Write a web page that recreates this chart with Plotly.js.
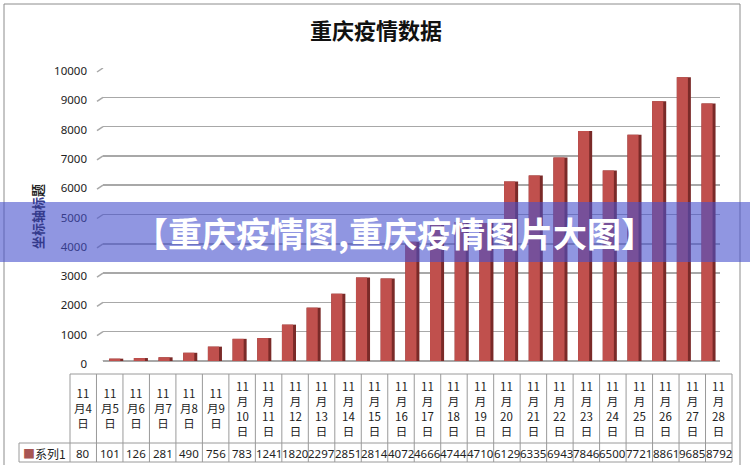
<!DOCTYPE html>
<html><head><meta charset="utf-8">
<script src="https://cdn.plot.ly/plotly-3.0.1.min.js"></script>
<style>html,body{margin:0;padding:0;background:#fff;}#chart{width:750px;height:465px;}</style>
</head><body><div id="chart"></div>
<script>
// ---- data ----
const dates = ['11月4日','11月5日','11月6日','11月7日','11月8日','11月9日','11月10日','11月11日','11月12日','11月13日','11月14日','11月15日','11月16日','11月17日','11月18日','11月19日','11月20日','11月21日','11月22日','11月23日','11月24日','11月25日','11月26日','11月27日','11月28日'];
const cases = [80,101,126,281,490,756,783,1241,1820,2297,2851,2814,4072,4666,4744,4710,6129,6335,6943,7846,6500,7721,8861,9685,8792];
const seriesName = '系列1';
const yTicks = [0,1000,2000,3000,4000,5000,6000,7000,8000,9000,10000];
const yTickText = ['0','1000','2000','3000','4000','5000','6000','7000','8000','9000','10000'];
const chartTitle = '重庆疫情数据';
const yTitle = '坐标轴标题';
const bannerText = '【重庆疫情图,重庆疫情图片大图】';

// ---- geometry helpers (pixel -> paper) ----
const W = 750, H = 465, L = 70, R = 18, T = 68, B = 104;
const PW = W - L - R, PH = H - T - B;
const px = x => (x - L) / PW;
const py = y => (H - B - y) / PH;

function wrapLabel(d) {
  const m = d.match(/^(\d+)月(\d+)日$/);
  if (m[2].length === 1) return m[1] + '<br>月' + m[2] + '<br>日';
  return m[1] + '<br>月<br>' + m[2] + '<br>日';
}

const gridColor = '#a8a8a8';
const tableLine = '#9a9a9a';
const textFont = 'Noto Sans, Noto Sans CJK SC, sans-serif';

const traces = [
  { type: 'bar', x: dates, y: cases, xaxis: 'x', yaxis: 'y', width: 0.57, offset: -0.3,
    marker: { color: '#7a2a28', line: { width: 0 } }, hoverinfo: 'skip', showlegend: false },
  { type: 'bar', x: dates, y: cases, xaxis: 'x', yaxis: 'y', width: 0.45, offset: -0.3,
    marker: { color: '#c0504d', line: { width: 0 } }, hoverinfo: 'skip', showlegend: false },
  { type: 'scatter', mode: 'none', x: dates, y: cases, xaxis: 'x2', yaxis: 'y2',
    hoverinfo: 'skip', showlegend: false }
];

const shapes = [];
// chart frame
shapes.push({ type: 'rect', xref: 'paper', yref: 'paper', x0: px(4), x1: px(740), y0: py(480), y1: py(4),
  line: { color: '#8c8c8c', width: 1 }, fillcolor: 'rgba(0,0,0,0)', layer: 'below' });
// 3D left-wall diagonals at each gridline
yTicks.forEach(v => {
  shapes.push({ type: 'line', xref: 'paper', yref: 'y', ysizemode: 'pixel', yanchor: v,
    x0: px(97), x1: px(103), y0: -4, y1: 0, line: { color: gridColor, width: 1.5 }, layer: 'below' });
});
// floor front edge and right diagonal
shapes.push({ type: 'line', xref: 'paper', yref: 'y', ysizemode: 'pixel', yanchor: 0,
  x0: px(97), x1: px(712), y0: -4, y1: -4, line: { color: gridColor, width: 1.5 }, layer: 'below' });
shapes.push({ type: 'line', xref: 'paper', yref: 'y', ysizemode: 'pixel', yanchor: 0,
  x0: px(712), x1: px(720), y0: -4, y1: 0, line: { color: gridColor, width: 1.5 }, layer: 'below' });

// data table lines
const tTop = py(374), tMid = py(443), tBot = py(462);
const hline = (x0, x1, y) => ({ type: 'line', xref: 'paper', yref: 'paper', x0: x0, x1: x1, y0: y, y1: y, line: { color: tableLine, width: 1 } });
shapes.push(hline(0, 1, tTop));
shapes.push(hline(px(19), 1, tMid));
shapes.push(hline(px(19), 1, tBot));
shapes.push({ type: 'line', xref: 'paper', yref: 'paper', x0: px(19), x1: px(19), y0: tMid, y1: tBot, line: { color: tableLine, width: 1 } });
shapes.push({ type: 'line', xref: 'paper', yref: 'paper', x0: 0, x1: 0, y0: tTop, y1: tBot, line: { color: tableLine, width: 1 } });
shapes.push({ type: 'line', xref: 'paper', yref: 'paper', x0: 1, x1: 1, y0: tTop, y1: tBot, line: { color: tableLine, width: 1 } });
for (let i = 0; i < dates.length - 1; i++) {
  shapes.push({ type: 'line', xref: 'x2', yref: 'paper', x0: i + 0.5, x1: i + 0.5, y0: tTop, y1: tBot, line: { color: tableLine, width: 1 } });
}
// watermark banner
shapes.push({ type: 'rect', xref: 'paper', yref: 'paper', x0: px(0), x1: px(750), y0: py(262), y1: py(202),
  fillcolor: 'rgba(70,80,205,0.6)', line: { width: 0 }, layer: 'above' });

const annotations = [];
dates.forEach((d, i) => {
  annotations.push({ xref: 'x2', yref: 'paper', x: d, y: py(408), text: wrapLabel(d), showarrow: false,
    xanchor: 'center', yanchor: 'middle', align: 'center',
    font: { family: 'Noto Sans CJK SC, sans-serif', size: 11.5, color: '#222' } });
  annotations.push({ xref: 'x2', yref: 'paper', x: d, y: py(453), text: String(cases[i]), showarrow: false,
    xanchor: 'center', yanchor: 'middle',
    font: { family: 'Noto Sans, sans-serif', size: 11.5, color: '#222' } });
});
annotations.push({ xref: 'paper', yref: 'paper', x: px(44), y: py(453), showarrow: false, xanchor: 'center', yanchor: 'middle',
  text: '<span style="color:#a85552">■</span>' + seriesName,
  font: { family: 'Noto Sans CJK SC, sans-serif', size: 12, color: '#222' } });
annotations.push({ xref: 'paper', yref: 'paper', x: px(37), y: py(217), showarrow: false, textangle: -90,
  xanchor: 'center', yanchor: 'middle',
  text: '<b><span style="color:#343a8c">' + yTitle.slice(0, 4) + '</span>' + yTitle.slice(4) + '</b>',
  font: { family: 'Noto Sans CJK SC, sans-serif', size: 13, color: '#222' } });
annotations.push({ xref: 'paper', yref: 'paper', x: px(394), y: py(232), showarrow: false,
  xanchor: 'center', yanchor: 'middle', text: '<b>' + bannerText + '</b>',
  font: { family: 'Noto Sans CJK SC, sans-serif', size: 34, color: '#ffffff' } });

const layout = {
  width: W, height: H,
  margin: { l: L, r: R, t: T, b: B, pad: 0 },
  paper_bgcolor: '#ffffff', plot_bgcolor: 'rgba(0,0,0,0)',
  barmode: 'overlay',
  showlegend: false,
  title: { text: chartTitle, xref: 'container', yref: 'container', x: 376 / W, y: 1 - 31 / H,
    xanchor: 'center', yanchor: 'middle',
    font: { family: 'Noto Sans CJK SC, sans-serif', size: 22, color: '#111', weight: 'bold' } },
  xaxis: { domain: [px(103), px(720)], type: 'category', categoryarray: dates, range: [-0.55, 24.45],
    showticklabels: false, showgrid: false, zeroline: false, showline: false, ticks: '', anchor: 'y', fixedrange: true },
  yaxis: { domain: [0, 1], range: [0, 10000], tickmode: 'array', tickvals: yTicks, ticktext: yTickText, anchor: 'x',
    showgrid: true, gridcolor: gridColor, gridwidth: 1.5, zeroline: true, zerolinecolor: gridColor, zerolinewidth: 1.5,
    showline: false, ticks: '', ticklabelstandoff: 15, ticklabelshift: 3,
    tickfont: { family: textFont, size: 11.5, color: '#222' }, fixedrange: true },
  xaxis2: { domain: [0, 1], type: 'category', categoryarray: dates, range: [-0.5, dates.length - 0.5],
    anchor: 'y2', visible: false, showgrid: false, zeroline: false, fixedrange: true },
  yaxis2: { domain: [0, 1], anchor: 'x2', visible: false, showgrid: false, zeroline: false, range: [0, 1], fixedrange: true },
  shapes: shapes,
  annotations: annotations
};

Plotly.newPlot('chart', traces, layout, { staticPlot: true, displayModeBar: false });
</script>
</body></html>
